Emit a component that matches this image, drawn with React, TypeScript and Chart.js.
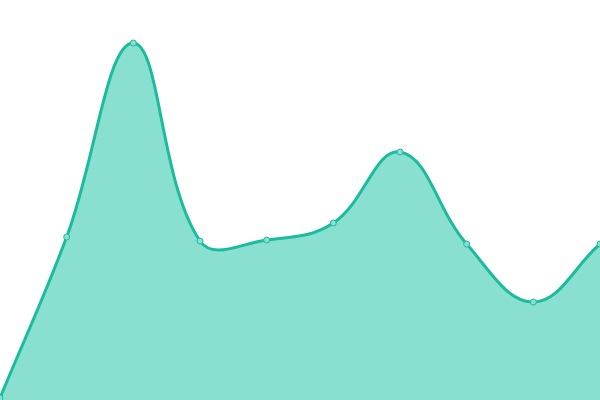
import { useEffect, useRef } from 'react';
import { Chart, registerables } from 'chart.js';

Chart.register(...registerables);

const labels = ['1', '2', '3', '4', '5', '6', '7', '8', '9', '10'];
const values = [0.5, 40.75, 89.25, 39.75, 40, 44.25, 62, 39, 24.5, 39];

export default function App() {
  const chartRef = useRef<HTMLCanvasElement>(null);
  const chartInstance = useRef<Chart | null>(null);

  useEffect(() => {
    document.body.style.margin = '0';
    if (!chartRef.current) return;
    const ctx = chartRef.current.getContext('2d');
    if (!ctx) return;

    chartInstance.current = new Chart(ctx, {
      type: 'line',
      data: {
        labels,
        datasets: [
          {
            data: values,
            borderColor: '#1abc9c',
            backgroundColor: '#89e0d0',
            borderWidth: 3,
            fill: true,
            tension: 0.4,
            pointRadius: 3,
            pointBorderWidth: 1,
            pointBackgroundColor: '#89e0d0',
            pointBorderColor: '#1abc9c'
          }
        ]
      },
      options: {
        responsive: true,
        maintainAspectRatio: false,
        animation: false,
        layout: { padding: 0, autoPadding: false },
        plugins: {
          legend: { display: false },
          tooltip: { enabled: false }
        },
        scales: {
          x: { display: false },
          y: { display: false, min: 0, max: 100 }
        }
      }
    });

    return () => {
      if (chartInstance.current) {
        chartInstance.current.destroy();
      }
    };
  }, []);

  return (
    <div style={{ width: 600, height: 400, position: 'relative' }}>
      <canvas ref={chartRef} />
    </div>
  );
}
